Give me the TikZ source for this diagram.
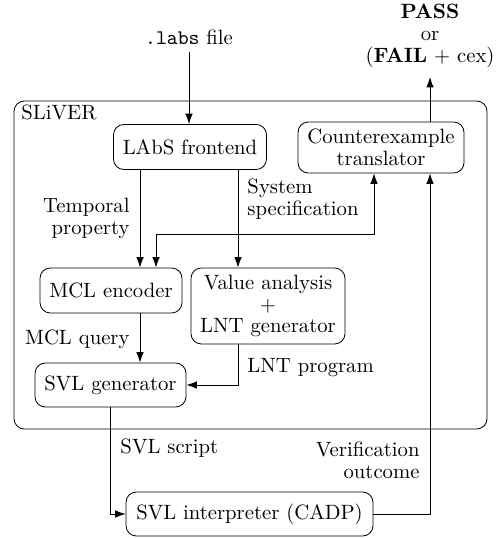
\documentclass[tikz,border=0pt]{standalone}
\usetikzlibrary{arrows.meta}
\begin{document}
\begin{tikzpicture}[x=0.483pt,y=-0.483pt,
  every node/.style={font=\fontsize{10}{10.6}\selectfont},
  box/.style={draw, rounded corners=5pt, align=center, inner sep=0pt},
  wh/.style 2 args={minimum width=#1*0.483pt, minimum height=#2*0.483pt},
  lbl/.style={inner sep=1pt},
  arr/.style={-{Latex[length=5pt,width=3.6pt]}},
  darr/.style={{Latex[length=5pt,width=3.6pt]}-{Latex[length=5pt,width=3.6pt]}}]
\useasboundingbox (0,0) rectangle (497,538);
% container
\draw[rounded corners=5pt] (14,101) rectangle (487,429);
\node[anchor=base west, inner sep=0pt] (sliver) at (21,120) {SLiVER};
% nodes
\node[box, wh={153}{45}] (lf) at (190,147) {LAbS frontend};
\node[box, wh={166}{51}] (ct) at (381,147.5) {Counterexample\\translator};
\node[box, wh={142}{45}] (mcl) at (111,290.5) {MCL encoder};
\node[box, wh={154}{76}] (va) at (268,306) {Value analysis\\$+$\\LNT generator};
\node[box, wh={151}{44}] (svlg) at (110.5,385) {SVL generator};
\node[box, wh={247}{44}] (svli) at (249.5,514) {SVL interpreter (CADP)};
\node (labs) at (189,37) {\texttt{.labs} file};
\node[align=center, inner sep=0pt] (pass) at (430,36) {\textbf{PASS}\\or\\(\textbf{FAIL} $+$ cex)};
% helper coordinates
\coordinate (passin) at (430,77);
\coordinate (xa) at (140,0);
\coordinate (xb) at (238,0);
\coordinate (xc) at (156,0);
\coordinate (xe) at (374,0);
\coordinate (xf) at (430,0);
\coordinate (yd) at (0,234);
% connectors
\draw[arr] (labs.south) -- (labs.south |- lf.north);
\draw[arr] (ct.north -| xf) -- (passin);
\draw[arr] (lf.south -| xa) -- (mcl.north -| xa);
\draw[arr] (lf.south -| xb) -- (va.north -| xb);
\draw[darr] (mcl.north -| xc) -- (xc |- yd) -- (xe |- yd) -- (ct.south -| xe);
\draw[arr] (mcl.south -| xa) -- (svlg.north -| xa);
\draw[arr] (va.south -| xb) |- (svlg.east);
\draw[arr] (svlg.south) |- (svli.west);
\draw[arr] (svli.east) -| (ct.south -| xf);
% labels
\node[lbl, anchor=east, align=right] (tp) at (132,218) {Temporal\\property};
\node[lbl, anchor=west, align=left] (ss) at (245,199) {System\\specification};
\node[lbl, anchor=east] (mq) at (132,339) {MCL query};
\node[lbl, anchor=west] (lp) at (245,368) {LNT program};
\node[lbl, anchor=west] (sv) at (118,448) {SVL script};
\node[lbl, anchor=east, align=right] (vo) at (422,460) {Verification\\outcome};
\end{tikzpicture}
\end{document}
